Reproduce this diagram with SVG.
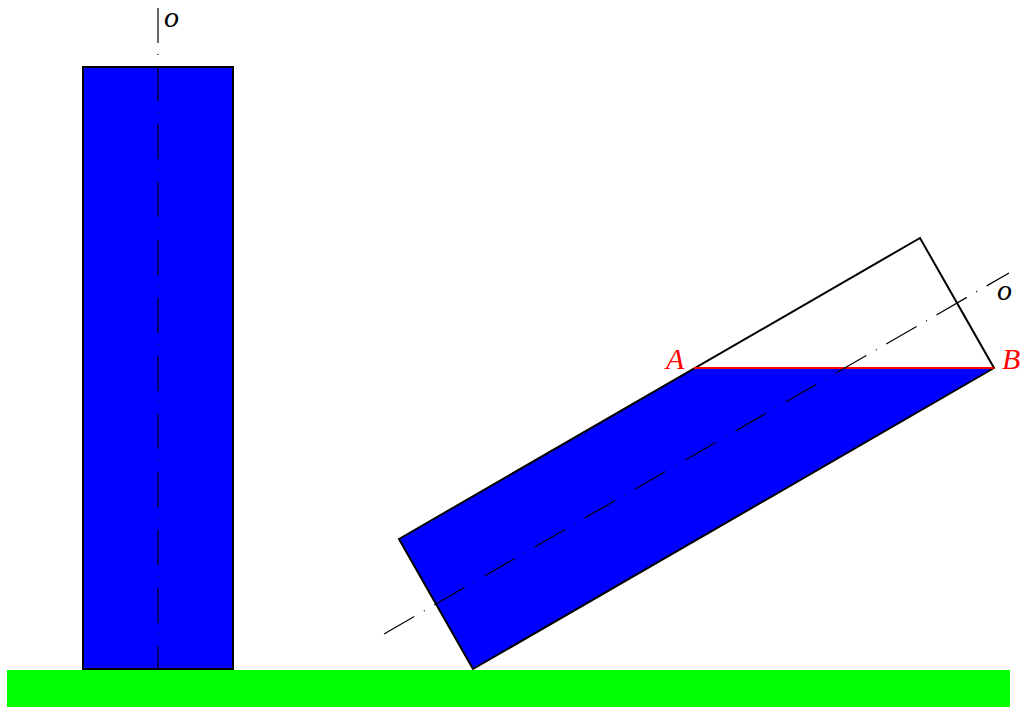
<svg xmlns="http://www.w3.org/2000/svg" width="1021" height="707" viewBox="0 0 1021 707">
<style>
.edge{fill:none;stroke:#000;stroke-width:2;stroke-linejoin:miter}
.axis{fill:none;stroke:#000;stroke-width:1.2;stroke-dasharray:35 11 1 11}
</style>
<rect width="1021" height="707" fill="#fff"/>
<g id="ground"><rect x="7" y="670" width="1003" height="37" fill="#00ff00"/></g>
<g id="upright">
<rect x="83" y="67" width="150" height="602" class="edge" style="fill:#0000ff"/>
</g>
<g id="tilted">
<polygon points="399,539 694,368 994,368 473,669" fill="#0000ff"/>
<polygon class="edge" points="473,669 399,539 920,238 994,368"/>
<line x1="694" y1="368" x2="994" y2="368" stroke="#ff0000" stroke-width="2.2"/>
</g>
<g id="connectors">
<line class="axis" x1="158" y1="8" x2="158" y2="669"/>
<line class="axis" x1="384" y1="634" x2="1009" y2="273"/>
</g>
<g id="labels" font-family="'Liberation Serif', serif" font-style="italic" font-size="30">
<text x="164" y="27">o</text>
<text x="997" y="300">o</text>
<text x="666" y="369" fill="#ff0000">A</text>
<text x="1002" y="369" fill="#ff0000">B</text>
</g>
</svg>
